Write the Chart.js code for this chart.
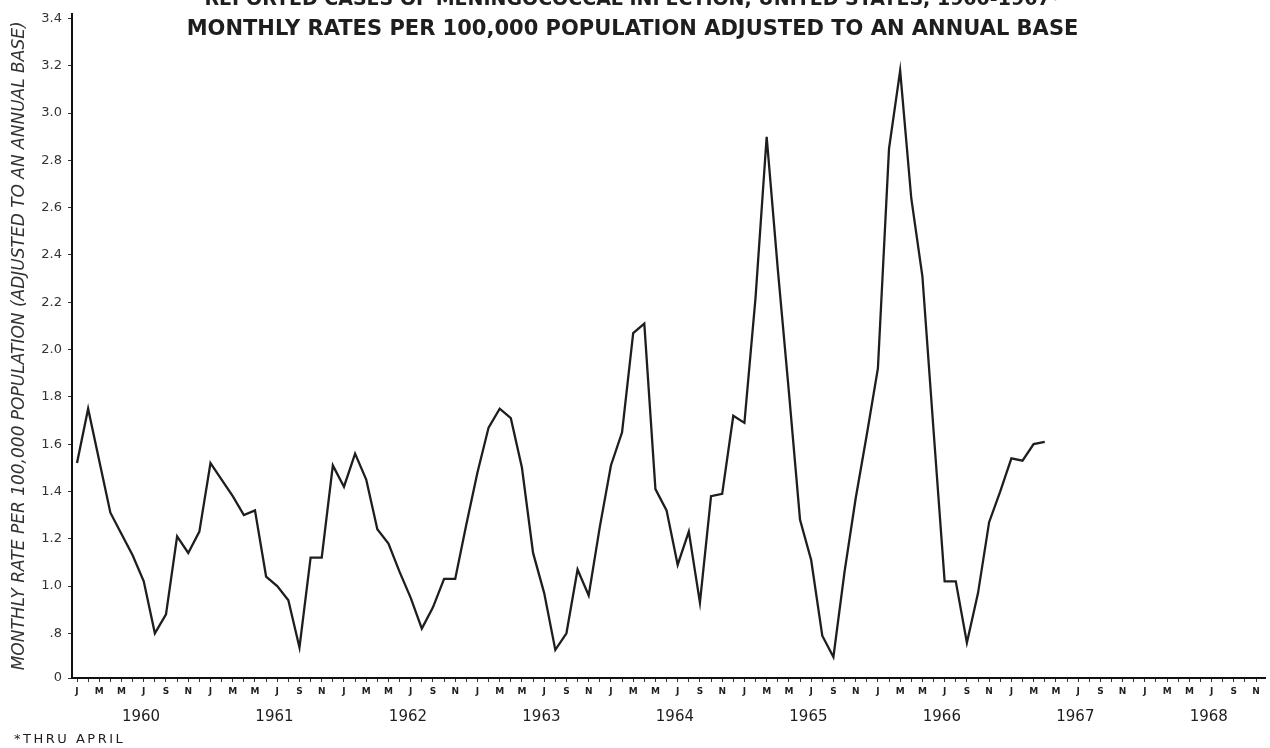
<!DOCTYPE html>
<html>
<head>
<meta charset="utf-8">
<title>Meningococcal infection, US 1960-1967</title>
<script src="https://cdn.jsdelivr.net/npm/chart.js@4.4.1/dist/chart.umd.min.js"></script>
<style>
    html, body { margin: 0; padding: 0; background: #fff; }
    #wrap { width: 1270px; height: 748px; }
</style>
</head>
<body>
<div id="wrap"><canvas id="grafik" width="1270" height="748"></canvas></div>

<script>
// monthly rates per 100,000 (annual base)
var rate1960 = [1.52, 1.75, 1.53, 1.31, 1.22, 1.13, 1.02, 0.80, 0.88, 1.21, 1.14, 1.23];
var rate1961 = [1.52, 1.45, 1.38, 1.30, 1.32, 1.04, 1.00, 0.94, 0.74, 1.12, 1.12, 1.51];
var rate1962 = [1.42, 1.56, 1.45, 1.24, 1.18, 1.06, 0.95, 0.82, 0.91, 1.03, 1.03, 1.26];
var rate1963 = [1.48, 1.67, 1.75, 1.71, 1.50, 1.14, 0.97, 0.73, 0.80, 1.07, 0.96, 1.25];
var rate1964 = [1.51, 1.65, 2.07, 2.11, 1.41, 1.32, 1.09, 1.23, 0.93, 1.38, 1.39, 1.72];
var rate1965 = [1.69, 2.22, 2.90, 2.34, 1.82, 1.28, 1.11, 0.79, 0.70, 1.06, 1.37, 1.64];
var rate1966 = [1.92, 2.85, 3.18, 2.64, 2.31, 1.66, 1.02, 1.02, 0.76, 0.97, 1.27, 1.40];
var rate1967 = [1.54, 1.53, 1.60, 1.61];   // thru April

var years = [1960, 1961, 1962, 1963, 1964, 1965, 1966, 1967, 1968];
var monthLetters = ['J', 'F', 'M', 'A', 'M', 'J', 'J', 'A', 'S', 'O', 'N', 'D'];
var yTicks = [0.8, 1.0, 1.2, 1.4, 1.6, 1.8, 2.0, 2.2, 2.4, 2.6, 2.8, 3.0, 3.2, 3.4];
var yBreak = 0.611;   // the broken axis: "0" sits just under .8

var rates = [].concat(rate1960, rate1961, rate1962, rate1963, rate1964, rate1965, rate1966, rate1967);
var punkty = rates.map(function (v, i) { return {x: i, y: v}; });

var FONT = 'DejaVu Sans';
var INK = '#1e1e1e';

var footnote = {
    id: 'footnote',
    afterDraw: function (chart) {
        var ctx = chart.ctx;
        ctx.save();
        ctx.font = '13px "' + FONT + '"';
        ctx.letterSpacing = '2.5px';
        ctx.fillStyle = INK;
        ctx.textBaseline = 'middle';
        ctx.fillText('*THRU APRIL', 14, 740);
        ctx.restore();
    }
};

var xMin = -0.45, xMax = 106.8;

new Chart(document.getElementById('grafik').getContext('2d'), {
    type: 'line',
    data: {
        datasets: [{
            data: punkty,
            borderColor: INK,
            borderWidth: 2.3,
            pointRadius: 0,
            tension: 0,
            fill: false
        }]
    },
    options: {
        responsive: false,
        animation: false,
        devicePixelRatio: 1,
        layout: { padding: { left: 0, right: 5, top: 0, bottom: 23 } },
        plugins: {
            legend: { display: false },
            tooltip: { enabled: false },
            title: {
                display: true,
                text: 'REPORTED CASES OF MENINGOCOCCAL INFECTION, UNITED STATES, 1960-1967*',
                font: { family: FONT, size: 19, weight: 'bold' },
                color: INK,
                padding: { top: -15.4, bottom: 0 }
            },
            subtitle: {
                display: true,
                text: 'MONTHLY RATES PER 100,000 POPULATION ADJUSTED TO AN ANNUAL BASE',
                font: { family: FONT, size: 21, weight: 'bold' },
                color: INK,
                padding: { top: 5.5, bottom: -28.1 }
            }
        },
        scales: {
            x: {
                type: 'linear',
                position: 'bottom',
                weight: 0,
                min: xMin,
                max: xMax,
                afterBuildTicks: function (s) {
                    var t = [];
                    for (var i = 0; i < years.length * 12 - 1; i++) t.push({value: i});
                    s.ticks = t;
                },
                afterFit: function (s) { s.height = 18; },
                grid: { drawOnChartArea: false, drawTicks: true, tickLength: 4, color: '#333' },
                border: { color: '#111', width: 2 },
                ticks: {
                    autoSkip: false, maxRotation: 0, padding: 4,
                    font: { family: FONT, size: 9, weight: 'bold' },
                    color: INK,
                    callback: function (v) { return v % 2 == 0 ? monthLetters[v % 12] : ''; }
                }
            },
            x2: {
                type: 'linear',
                position: 'bottom',
                weight: 1,
                min: xMin,
                max: xMax,
                afterBuildTicks: function (s) {
                    s.ticks = years.map(function (y, i) { return {value: i * 12 + 5.75}; });
                },
                afterFit: function (s) { s.height = 29; },
                grid: { display: false, drawTicks: false },
                border: { display: false },
                ticks: {
                    autoSkip: false, maxRotation: 0, padding: 12,
                    font: { family: FONT, size: 15 },
                    color: INK,
                    callback: function (v, i) { return '' + years[i]; }
                }
            },
            y: {
                type: 'linear',
                min: yBreak,
                max: 3.42,
                afterBuildTicks: function (s) {
                    s.ticks = [{value: yBreak}].concat(yTicks.map(function (v) { return {value: v}; }));
                },
                afterFit: function (s) { s.width = 72; },
                grid: { drawOnChartArea: false, drawTicks: true, tickLength: 4, color: '#333' },
                border: { color: '#111', width: 2 },
                ticks: {
                    padding: 6,
                    font: { family: FONT, size: 13 },
                    color: '#333',
                    callback: function (v) {
                        if (v === yBreak) return '0';
                        return v < 1 ? v.toFixed(1).slice(1) : v.toFixed(1);
                    }
                },
                title: {
                    display: true,
                    text: 'MONTHLY RATE PER 100,000 POPULATION (ADJUSTED TO AN ANNUAL BASE)',
                    font: { family: FONT, size: 17, style: 'italic' },
                    color: '#333',
                    padding: { top: 9, bottom: 0 }
                }
            }
        }
    },
    plugins: [footnote]
});
</script>
</body>
</html>
